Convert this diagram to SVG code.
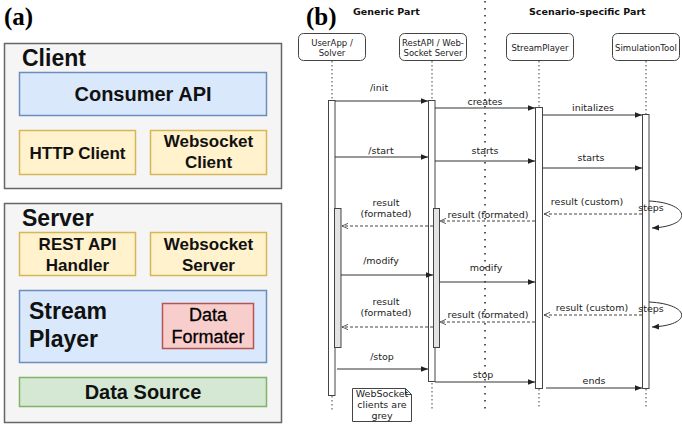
<svg xmlns="http://www.w3.org/2000/svg" width="682" height="426" viewBox="0 0 682 426">
<style>
.lbl{font-family:"Liberation Serif","Times New Roman",serif;font-weight:bold;font-size:25px;fill:#000}
.big{font-family:"Liberation Sans",Arial,sans-serif;font-weight:bold;fill:#111}
.t23{font-size:23px}
.t20{font-size:20px}
.t17{font-size:17px}
.grp{fill:#f5f5f5;stroke:#666;stroke-width:1.5}
.blue{fill:#dae8fc;stroke:#6c8ebf;stroke-width:1.5}
.yel{fill:#fff2cc;stroke:#d6b656;stroke-width:1.5}
.red{fill:#f8cecc;stroke:#b85450;stroke-width:1.5}
.grn{fill:#d5e8d4;stroke:#82b366;stroke-width:1.5}
.sq{font-family:"DejaVu Sans",Verdana,sans-serif;font-size:9.5px;fill:#222}
.hd{font-family:"DejaVu Sans",Verdana,sans-serif;font-size:8.5px;fill:#222}
.ttl{font-family:"DejaVu Sans",Verdana,sans-serif;font-size:9.5px;font-weight:bold;fill:#111}
.head{fill:#fff;stroke:#444;stroke-width:1}
.bar{fill:#fff;stroke:#444;stroke-width:1}
.gbar{fill:#e3e3e3;stroke:#444;stroke-width:1}
.life{stroke:#444;stroke-width:1;stroke-dasharray:1.5 2.5;fill:none}
.sep{stroke:#222;stroke-width:1.5;stroke-dasharray:1.5 5.5;fill:none}
.msg{stroke:#333;stroke-width:1;fill:none;marker-end:url(#fa)}
.ret{stroke:#444;stroke-width:1;stroke-dasharray:3 2;fill:none;marker-end:url(#oa)}
</style>
<defs>
<marker id="fa" viewBox="0 0 10 10" refX="10" refY="5" markerWidth="7" markerHeight="7" markerUnits="userSpaceOnUse" orient="auto">
<path d="M0,1 L10,5 L0,9 z" fill="#222"/>
</marker>
<marker id="oa" viewBox="0 0 10 10" refX="9" refY="5" markerWidth="7" markerHeight="7" markerUnits="userSpaceOnUse" orient="auto">
<path d="M0,1 L9,5 L0,9" fill="none" stroke="#444" stroke-width="1.2"/>
</marker>
</defs>

<rect width="682" height="426" fill="#fff"/>

<!-- Panel (a) -->
<text class="lbl" x="4" y="25">(a)</text>

<g id="client">
<rect class="grp" x="4.5" y="43.5" width="277" height="145"/>
<text class="big t23" x="22" y="66">Client</text>
</g>
<g id="consumer-api">
<rect class="blue" x="19.5" y="72.5" width="247" height="43"/>
<text class="big t20" x="143" y="101" text-anchor="middle">Consumer API</text>
</g>
<g id="http-client">
<rect class="yel" x="19.5" y="130.5" width="116" height="44"/>
<text class="big t17" x="77.5" y="158.5" text-anchor="middle">HTTP Client</text>
</g>
<g id="websocket-client">
<rect class="yel" x="150.5" y="130.5" width="116" height="44"/>
<text class="big t17" x="208.5" y="147" text-anchor="middle">Websocket</text>
<text class="big t17" x="208.5" y="168" text-anchor="middle">Client</text>
</g>

<g id="server">
<rect class="grp" x="4.5" y="203.5" width="277" height="219"/>
<text class="big t23" x="22" y="226">Server</text>
</g>
<g id="rest-api-handler">
<rect class="yel" x="19.5" y="232.5" width="116" height="43"/>
<text class="big t17" x="77.5" y="250" text-anchor="middle">REST API</text>
<text class="big t17" x="77.5" y="271" text-anchor="middle">Handler</text>
</g>
<g id="websocket-server">
<rect class="yel" x="150.5" y="232.5" width="116" height="43"/>
<text class="big t17" x="208.5" y="250" text-anchor="middle">Websocket</text>
<text class="big t17" x="208.5" y="271" text-anchor="middle">Server</text>
</g>
<g id="stream-player">
<rect class="blue" x="19.5" y="290.5" width="247" height="72"/>
<text class="big t23" x="29" y="319">Stream</text>
<text class="big t23" x="29" y="347">Player</text>
</g>
<g id="data-formater">
<rect class="red" x="162.5" y="303.5" width="91" height="45"/>
<text class="big" style="font-weight:normal;font-size:18px;fill:#000;stroke:#000;stroke-width:0.3" x="208" y="321" text-anchor="middle">Data</text>
<text class="big" style="font-weight:normal;font-size:18px;fill:#000;stroke:#000;stroke-width:0.3" x="208" y="343" text-anchor="middle">Formater</text>
</g>
<g id="data-source">
<rect class="grn" x="19.5" y="377.5" width="247" height="29"/>
<text class="big t20" x="143" y="399" text-anchor="middle">Data Source</text>
</g>

<!-- Panel (b) -->
<text class="lbl" x="306" y="25">(b)</text>
<text class="ttl" x="353" y="15">Generic Part</text>
<text class="ttl" x="529" y="15">Scenario-specific Part</text>
<line class="sep" x1="485" y1="1" x2="485" y2="412"/>

<g id="userapp">
<rect class="head" x="298.5" y="33.5" width="67" height="27" rx="5"/>
<text class="hd" x="332" y="46" text-anchor="middle">UserApp /</text>
<text class="hd" x="332" y="56" text-anchor="middle">Solver</text>
<line class="life" x1="332" y1="61" x2="332" y2="100"/>
<line class="life" x1="332" y1="396" x2="332" y2="412"/>
<rect class="bar" x="328.5" y="100.5" width="6.5" height="295"/>
<rect class="gbar" x="334.5" y="208.5" width="6.5" height="139"/>
</g>

<g id="restapi">
<rect class="head" x="399.5" y="33.5" width="67" height="27" rx="5"/>
<text class="hd" x="433" y="46" text-anchor="middle">RestAPI / Web-</text>
<text class="hd" x="433" y="56" text-anchor="middle">Socket Server</text>
<line class="life" x1="432" y1="61" x2="432" y2="100"/>
<line class="life" x1="432" y1="383" x2="432" y2="410"/>
<rect class="bar" x="428.5" y="100.5" width="6.5" height="281"/>
<rect class="gbar" x="433.5" y="208.5" width="6" height="139"/>
</g>

<g id="streamplayer">
<rect class="head" x="506.5" y="33.5" width="67" height="27" rx="5"/>
<text class="hd" x="540" y="51" text-anchor="middle">StreamPlayer</text>
<line class="life" x1="539" y1="61" x2="539" y2="107"/>
<line class="life" x1="539" y1="389" x2="539" y2="408"/>
<rect class="bar" x="535.5" y="107.5" width="7" height="281"/>
</g>

<g id="simulationtool">
<rect class="head" x="612.5" y="33.5" width="67" height="27" rx="5"/>
<text class="hd" x="646" y="51" text-anchor="middle">SimulationTool</text>
<line class="life" x1="646" y1="61" x2="646" y2="114"/>
<line class="life" x1="646" y1="389" x2="646" y2="408"/>
<rect class="bar" x="642.5" y="114.5" width="6.5" height="274"/>
</g>

<g id="note">
<path d="M352.5,388.5 H405.5 L411.5,394.5 V421.5 H352.5 Z" fill="#fff" stroke="#444" stroke-width="1"/>
<path d="M405.5,388.5 V394.5 H411.5" fill="none" stroke="#444" stroke-width="1"/>
<text class="sq" x="382" y="397" text-anchor="middle">WebSocket</text>
<text class="sq" x="382" y="408" text-anchor="middle">clients are</text>
<text class="sq" x="382" y="419" text-anchor="middle">grey</text>
</g>

<g id="connectors">
<line class="msg" x1="335" y1="101" x2="428" y2="101"/>
<text class="sq" x="379" y="91" text-anchor="middle">/init</text>
<line class="msg" x1="435" y1="108" x2="535" y2="108"/>
<text class="sq" x="485" y="105" text-anchor="middle">creates</text>
<line class="msg" x1="543" y1="115" x2="642" y2="115"/>
<text class="sq" x="593" y="111" text-anchor="middle">initalizes</text>

<line class="msg" x1="335" y1="157" x2="428" y2="157"/>
<text class="sq" x="381" y="154" text-anchor="middle">/start</text>
<line class="msg" x1="435" y1="161" x2="535" y2="161"/>
<text class="sq" x="485" y="154" text-anchor="middle">starts</text>
<line class="msg" x1="543" y1="168" x2="642" y2="168"/>
<text class="sq" x="591" y="161" text-anchor="middle">starts</text>

<line class="ret" x1="642" y1="214" x2="544" y2="214"/>
<text class="sq" x="587" y="205" text-anchor="middle">result (custom)</text>
<path class="msg" d="M649,201 C690,203 694,226 652,228"/>
<text class="sq" x="651" y="211" text-anchor="middle">steps</text>
<line class="ret" x1="535" y1="221" x2="440" y2="221"/>
<text class="sq" x="488" y="218" text-anchor="middle">result (formated)</text>
<line class="ret" x1="433" y1="226" x2="342" y2="226"/>
<text class="sq" x="386" y="206" text-anchor="middle">result</text>
<text class="sq" x="386" y="217" text-anchor="middle">(formated)</text>

<line class="msg" x1="341" y1="275" x2="433" y2="275"/>
<text class="sq" x="381" y="264" text-anchor="middle">/modify</text>
<line class="msg" x1="439" y1="282" x2="535" y2="282"/>
<text class="sq" x="486" y="271" text-anchor="middle">modify</text>

<line class="ret" x1="642" y1="315" x2="544" y2="315"/>
<text class="sq" x="592" y="311" text-anchor="middle">result (custom)</text>
<path class="msg" d="M649,302 C690,304 694,325 652,327"/>
<text class="sq" x="651" y="312" text-anchor="middle">steps</text>
<line class="ret" x1="535" y1="322" x2="440" y2="322"/>
<text class="sq" x="488" y="318" text-anchor="middle">result (formated)</text>
<line class="ret" x1="433" y1="327" x2="342" y2="327"/>
<text class="sq" x="386" y="305" text-anchor="middle">result</text>
<text class="sq" x="386" y="316" text-anchor="middle">(formated)</text>

<line class="msg" x1="337" y1="369" x2="428" y2="369"/>
<text class="sq" x="382" y="360" text-anchor="middle">/stop</text>
<line class="msg" x1="435" y1="382" x2="535" y2="382"/>
<text class="sq" x="483" y="378" text-anchor="middle">stop</text>
<line class="msg" x1="546" y1="388" x2="642" y2="388"/>
<text class="sq" x="594" y="384" text-anchor="middle">ends</text>
</g>
</svg>
